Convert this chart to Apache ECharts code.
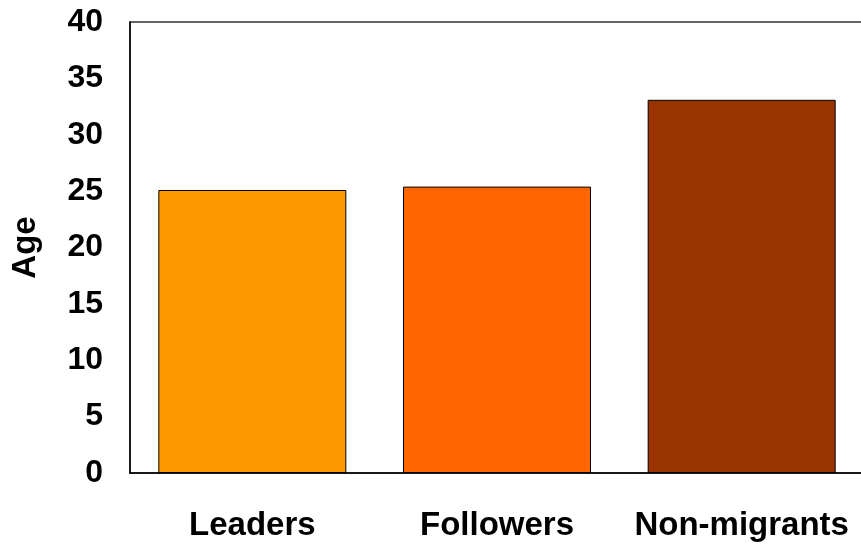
<!DOCTYPE html>
<html>
<head>
<meta charset="utf-8">
<script src="https://cdn.jsdelivr.net/npm/echarts@6/dist/echarts.min.js"></script>
<style>
html,body{margin:0;padding:0;background:#fff;}
#chart{width:861px;height:547px;}
</style>
</head>
<body>
<div id="chart"></div>
<script>
const categories = ['Leaders', 'Followers', 'Non-migrants'];
const ageValues = [25.1, 25.4, 33.1];
const barColors = ['#FF9900', '#FF6600', '#993300'];
const yAxisName = 'Age';

const chart = echarts.init(document.getElementById('chart'), null, {renderer: 'canvas'});
const font = 'Liberation Sans, Arial, sans-serif';
chart.setOption({
  animation: false,
  backgroundColor: '#ffffff',
  grid: {
    left: 130, top: 22, bottom: 74, width: 734,
    outerBoundsMode: 'none',
    containLabel: false,
    show: true, borderColor: '#333', borderWidth: 1.5
  },
  xAxis: {
    type: 'category',
    data: categories,
    axisLine: {lineStyle: {color: '#000', width: 1.5}},
    axisTick: {show: false},
    axisLabel: {
      interval: 0,
      color: '#000', fontSize: 33, fontWeight: 'bold', fontFamily: font, margin: 36
    }
  },
  yAxis: {
    type: 'value',
    min: 0, max: 40, interval: 5,
    name: yAxisName,
    nameLocation: 'middle',
    nameRotate: 90,
    nameGap: 88,
    nameTextStyle: {color: '#000', fontSize: 33, fontWeight: 'bold', fontFamily: font},
    axisLine: {show: true, lineStyle: {color: '#000', width: 1.5}},
    axisTick: {show: false},
    splitLine: {show: false},
    axisLabel: {
      color: '#000', fontSize: 32, fontWeight: 'bold', fontFamily: font, margin: 27
    }
  },
  series: [{
    type: 'bar',
    data: ageValues.map((v, i) => ({value: v, itemStyle: {color: barColors[i]}})),
    barWidth: 188,
    itemStyle: {borderColor: '#000', borderWidth: 1}
  }]
});
</script>
</body>
</html>
